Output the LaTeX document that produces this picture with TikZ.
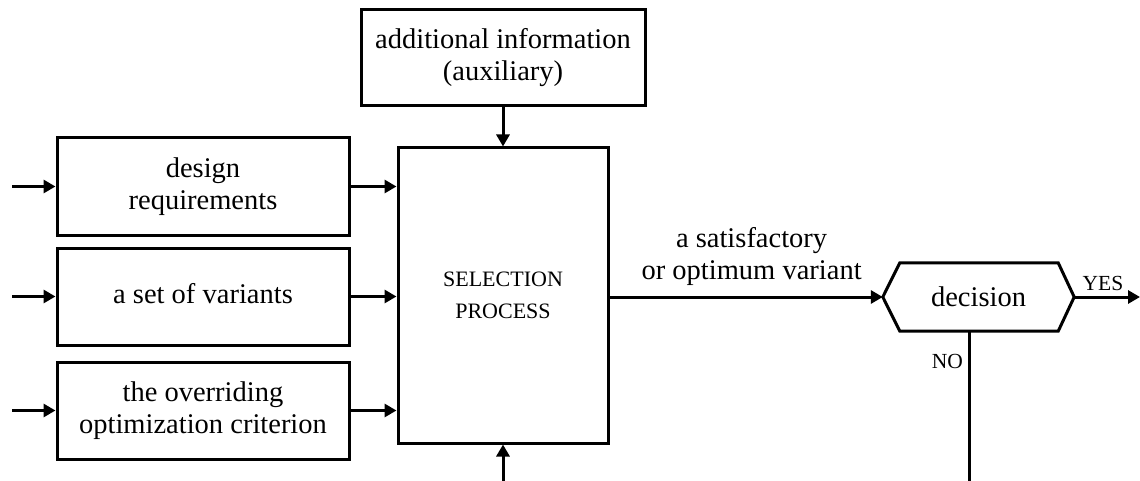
\documentclass[tikz,border=0pt]{standalone}
\usepackage{fontspec}
\setmainfont{Liberation Serif}
\usetikzlibrary{arrows.meta,calc}

\tikzset{
  box/.style={draw, line width=3pt, inner sep=0pt, align=center,
    font=\fontsize{28.5}{32}\selectfont},
  inbox/.style={box, minimum width=292pt, minimum height=97pt},
  flow/.style={line width=3pt, -{Triangle[length=12pt,width=13pt]}},
  plain/.style={line width=3pt},
  tag/.style={inner sep=0pt, font=\fontsize{21.5}{24}\selectfont},
}

\begin{document}
\begin{tikzpicture}[x=1pt, y=-1pt]
  \useasboundingbox (0,0) rectangle (1140,481);

  % input boxes on the left
  \node[inbox] (req)  at (203,186.5) {design\\requirements};
  \node[inbox] (var)  at (203,296.5) {\raisebox{6pt}{a set of variants}};
  \node[inbox] (crit) at (203,410.5) {the overriding\\optimization criterion};

  % central process and auxiliary input
  \node[box, minimum width=210pt, minimum height=295pt,
        font=\fontsize{22}{32}\selectfont] (sel) at (503,295.5)
        {SELECTION\\PROCESS};
  \node[box, minimum width=284pt, minimum height=96pt] (aux) at (503,58)
        {additional information\\(auxiliary)};

  % decision block (hexagon drawn around the node)
  \node[inner sep=0pt, minimum width=191pt, minimum height=68pt,
        font=\fontsize{28.5}{32}\selectfont] (dec) at (978.5,297) {decision};
  \draw[plain, line join=miter]
    (dec.west) -- ($(dec.north west)+(17,0)$) -- ($(dec.north east)+(-16,0)$)
    -- (dec.east) -- ($(dec.south east)+(-16,0)$) -- ($(dec.south west)+(17,0)$)
    -- cycle;

  % free ends of the connectors
  \coordinate (in1) at (12,0);
  \coordinate (bot) at (503,481);
  \coordinate (yes) at (1140,297);
  \coordinate (no)  at (969,481);

  % inputs into the left boxes
  \draw[flow] (in1 |- req.west)  -- (req.west);
  \draw[flow] (in1 |- var.west)  -- (var.west);
  \draw[flow] (in1 |- crit.west) -- (crit.west);

  % left boxes into the process
  \draw[flow] (req.east)  -- (sel.west |- req.east);
  \draw[flow] (var.east)  -- (sel.west |- var.east);
  \draw[flow] (crit.east) -- (sel.west |- crit.east);

  % auxiliary information and the input from below
  \draw[flow] (aux.south) -- (sel.north);
  \draw[flow] (bot) -- (sel.south);

  % result into the decision
  \draw[flow] (sel.east |- dec.west) -- (dec.west)
    node[pos=0.52, above=10pt, align=center, inner sep=0pt,
         font=\fontsize{28.5}{32}\selectfont]
    {a satisfactory\\or optimum variant};

  % outcomes
  \draw[flow] (dec.east) -- (yes);
  \node[tag, anchor=base] (yeslbl) at (1103,290) {YES};
  \draw[plain] (dec.south -| no) -- (no);
  \node[tag, anchor=base east] (nolbl) at (963,368) {NO};
\end{tikzpicture}
\end{document}
